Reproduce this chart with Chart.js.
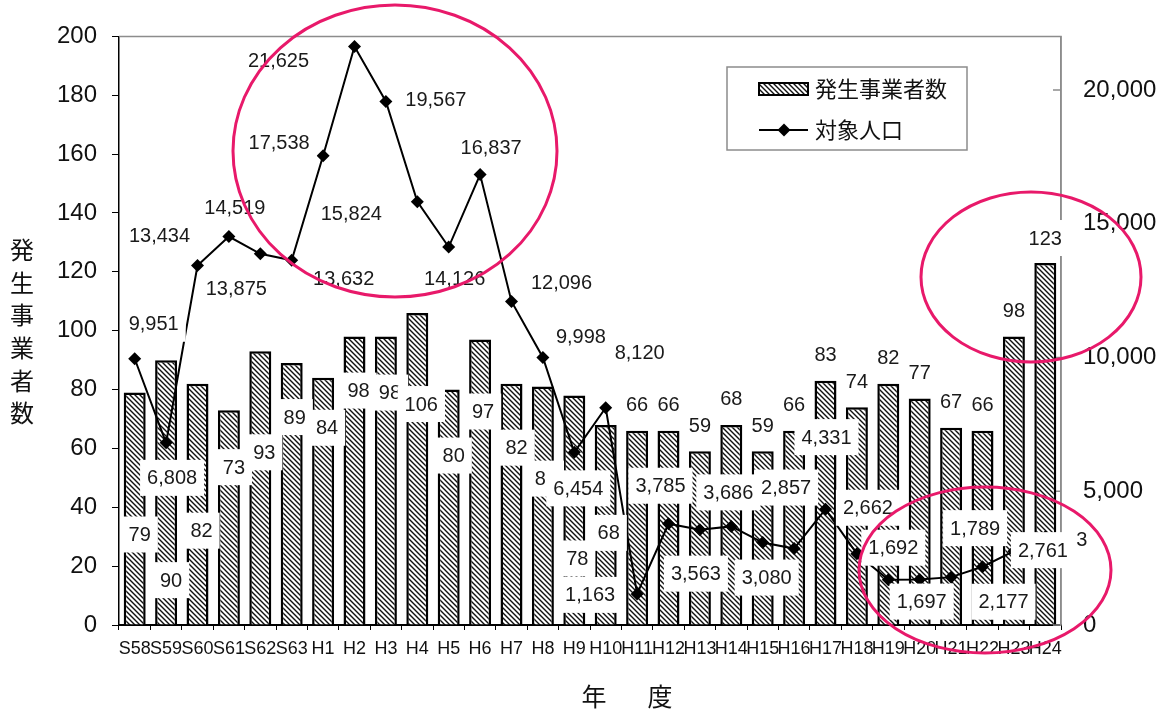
<!DOCTYPE html>
<html>
<head>
<meta charset="utf-8">
<script src="https://cdn.jsdelivr.net/npm/chart.js@4"></script>
<style>
  html, body { margin: 0; padding: 0; background: #fff; }
  #wrap { width: 1166px; height: 709px; }
</style>
</head>
<body>
<div id="wrap"><canvas id="chart" width="1166" height="709"></canvas></div>
<script>
// data
const years = ['S58', 'S59', 'S60', 'S61', 'S62', 'S63', 'H1', 'H2', 'H3', 'H4', 'H5', 'H6', 'H7', 'H8', 'H9',
    'H10', 'H11', 'H12', 'H13', 'H14', 'H15', 'H16', 'H17', 'H18', 'H19', 'H20', 'H21', 'H22', 'H23', 'H24'];
const businessCounts = [79, 90, 82, 73, 93, 89, 84, 98, 98, 106, 80, 97, 82, 81, 78,
    68, 66, 66, 59, 68, 59, 66, 83, 74, 82, 77, 67, 66, 98, 123];
const targetPopulation = [9951, 6808, 13434, 14519, 13875, 13632, 17538, 21625, 19567, 15824, 14126, 16837, 12096, 9998, 6454,
    8120, 1163, 3785, 3563, 3686, 3080, 2857, 4331, 2662, 1692, 1697, 1789, 2177, 2761, 3300];
const countTicks = [0, 20, 40, 60, 80, 100, 120, 140, 160, 180, 200];
const populationTicks = [0, 5000, 10000, 15000, 20000];

// where the hand-placed labels sit, relative to bar top / line point (px)
const barLabelOffsets = [[5, 142], [5, 220], [4, 147], [5, 57], [4, 101], [3, 54], [4, 50], [4, 54], [4, 56], [4, 91],
    [5, 66], [3, 72], [5, 64], [3, 92], [3, 163], [3, 108], [0, -26], [0, -26], [0, -26], [0, -26],
    [0, -26], [0, -26], [0, -26], [0, -26], [0, -26], [0, -26], [0, -26], [0, -26], [0, -26], [0, -25]];
const popLabelOffsets = [[19, -35], [6, 35], [-38, -30], [6, -29], [-24, 35], [52, 18], [-44, -13], [-76, 14], [50, -2], [-66, 12],
    [6, 31], [11, -27], [50, -19], [38, -21], [4, 36], [34, -55], [-47, 1], [-8, -38], [-4, 44], [-3, -34],
    [4, 35], [-8, -61], [1, -72], [11, -46], [5, -32], [2, 22], [24, -49], [21, 35], [29, -1], [56, 3]];

const NUM_FONT = "'Liberation Sans', Arial, sans-serif";
const JP_FONT = "'Noto Sans CJK JP', sans-serif";

function makeHatch(ctx) {
    let c = document.createElement('canvas');
    c.width = 5; c.height = 5;
    let g = c.getContext('2d');
    g.fillStyle = '#fff';
    g.fillRect(0, 0, 5, 5);
    g.strokeStyle = '#111';
    g.lineWidth = 1.4;
    g.beginPath();
    g.moveTo(-1, -1); g.lineTo(6, 6);
    g.moveTo(-1, 4); g.lineTo(1, 6);
    g.moveTo(4, -1); g.lineTo(6, 1);
    g.stroke();
    return ctx.createPattern(c, 'repeat');
}

function fmt(v) { return v.toLocaleString('en-US'); }

function boxLabel(ctx, text, x, y) {
    ctx.font = '20px ' + NUM_FONT;
    let w = ctx.measureText(text).width;
    ctx.fillStyle = '#fff';
    ctx.fillRect(x - w / 2 - 7, y - 18, w + 14, 36);
    ctx.fillStyle = '#1a1a1a';
    ctx.textAlign = 'center';
    ctx.textBaseline = 'middle';
    ctx.fillText(text, x, y + 1);
}

const frame = {
    id: 'frame',
    beforeDatasetsDraw(chart) {
        let { ctx, chartArea: a } = chart;
        ctx.save();
        ctx.strokeStyle = '#8c8c8c';
        ctx.lineWidth = 1.5;
        ctx.beginPath();
        ctx.moveTo(a.left, a.top); ctx.lineTo(a.right, a.top); ctx.lineTo(a.right, a.bottom);
        // inside ticks on the right axis
        let y2 = chart.scales.y2;
        populationTicks.forEach(v => {
            let py = y2.getPixelForValue(v);
            ctx.moveTo(a.right - 8, py); ctx.lineTo(a.right, py);
        });
        ctx.stroke();
        ctx.restore();
    }
};

const labels = {
    id: 'labels',
    afterDatasetsDraw(chart) {
        let ctx = chart.ctx;
        let bars = chart.getDatasetMeta(1).data;
        let pts = chart.getDatasetMeta(0).data;
        ctx.save();
        ctx.beginPath();
        ctx.rect(0, 0, 1089, 709);
        ctx.clip();
        bars.forEach((b, i) => {
            let o = barLabelOffsets[i];
            boxLabel(ctx, fmt(businessCounts[i]), b.x + o[0], b.y + o[1]);
        });
        pts.forEach((p, i) => {
            let o = popLabelOffsets[i];
            boxLabel(ctx, fmt(targetPopulation[i]), p.x + o[0], p.y + o[1]);
        });
        ctx.restore();
    },
    afterDraw(chart) {
        let ctx = chart.ctx;
        ctx.save();
        // y axis title, written top to bottom
        ctx.fillStyle = '#111';
        ctx.font = '24px ' + JP_FONT;
        ctx.textAlign = 'center';
        ctx.textBaseline = 'middle';
        '発生事業者数'.split('').forEach((ch, i) => ctx.fillText(ch, 22, 250 + i * 32.6));
        // x axis title
        ctx.font = '25px ' + JP_FONT;
        ctx.fillText('年', 594, 696);
        ctx.fillText('度', 660, 696);

        // legend
        ctx.strokeStyle = '#8c8c8c';
        ctx.lineWidth = 1.5;
        ctx.strokeRect(727, 67, 240, 83);
        ctx.fillStyle = chart.data.datasets[1].backgroundColor;
        ctx.fillRect(759, 83, 49, 12);
        ctx.strokeStyle = '#000';
        ctx.lineWidth = 2;
        ctx.strokeRect(759, 83, 49, 12);
        ctx.beginPath();
        ctx.moveTo(759, 130); ctx.lineTo(808, 130);
        ctx.stroke();
        ctx.fillStyle = '#000';
        ctx.beginPath();
        ctx.moveTo(784, 123.5); ctx.lineTo(790.5, 130); ctx.lineTo(784, 136.5); ctx.lineTo(777.5, 130);
        ctx.closePath();
        ctx.fill();
        ctx.fillStyle = '#111';
        ctx.font = '22px ' + JP_FONT;
        ctx.textAlign = 'left';
        ctx.fillText('発生事業者数', 815, 89);
        ctx.fillText('対象人口', 815, 130);

        // pink marker circles drawn over the chart
        ctx.strokeStyle = '#e8196a';
        ctx.lineWidth = 3;
        [[395, 151, 162, 146], [1031, 277, 110, 85], [985, 570, 126, 83]].forEach(e => {
            ctx.beginPath();
            ctx.ellipse(e[0], e[1], e[2], e[3], 0, 0, Math.PI * 2);
            ctx.stroke();
        });
        ctx.restore();
    }
};

let canvas = document.getElementById('chart');
let ctx = canvas.getContext('2d');
let hatch = makeHatch(ctx);

new Chart(ctx, {
    type: 'bar',
    data: {
        labels: years,
        datasets: [{
            type: 'line',
            label: '対象人口',
            data: targetPopulation,
            yAxisID: 'y2',
            borderColor: '#000',
            borderWidth: 2,
            pointStyle: 'rectRot',
            pointRadius: 6.5,
            pointBackgroundColor: '#000',
            pointBorderColor: '#000',
            pointBorderWidth: 0,
            tension: 0,
            order: 1
        }, {
            type: 'bar',
            label: '発生事業者数',
            data: businessCounts,
            yAxisID: 'y',
            backgroundColor: hatch,
            borderColor: '#000',
            borderWidth: 2.5,
            barPercentage: 0.7,
            categoryPercentage: 1,
            order: 2
        }]
    },
    options: {
        responsive: false,
        animation: false,
        devicePixelRatio: 1,
        layout: { padding: { top: 34, left: 0, right: 0, bottom: 0 } },
        plugins: {
            legend: { display: false },
            tooltip: { enabled: false }
        },
        scales: {
            x: {
                offset: true,
                grid: { offset: true, drawOnChartArea: false, tickLength: 5, color: '#000' },
                border: { color: '#000', width: 2 },
                ticks: {
                    autoSkip: false, maxRotation: 0, minRotation: 0, padding: 8,
                    color: '#111', font: { family: NUM_FONT, size: 18 }
                },
                afterFit(s) { s.height = 84; }
            },
            y: {
                position: 'left',
                min: 0,
                max: 200,
                afterBuildTicks(s) { s.ticks = countTicks.map(v => ({ value: v })); },
                grid: { drawOnChartArea: false, tickLength: 7, color: '#000' },
                border: { color: '#000', width: 1.5 },
                ticks: { padding: 15, color: '#111', font: { family: NUM_FONT, size: 24 } },
                afterFit(s) { s.width = 119; }
            },
            y2: {
                position: 'right',
                min: 0,
                max: 22000,
                afterBuildTicks(s) { s.ticks = populationTicks.map(v => ({ value: v })); },
                grid: { drawOnChartArea: false, drawTicks: false },
                border: { color: '#8c8c8c', width: 1.5 },
                ticks: {
                    padding: 22, color: '#111', font: { family: NUM_FONT, size: 24 },
                    callback: v => fmt(v)
                },
                afterFit(s) { s.width = 105; }
            }
        }
    },
    plugins: [frame, labels]
});
</script>
</body>
</html>
